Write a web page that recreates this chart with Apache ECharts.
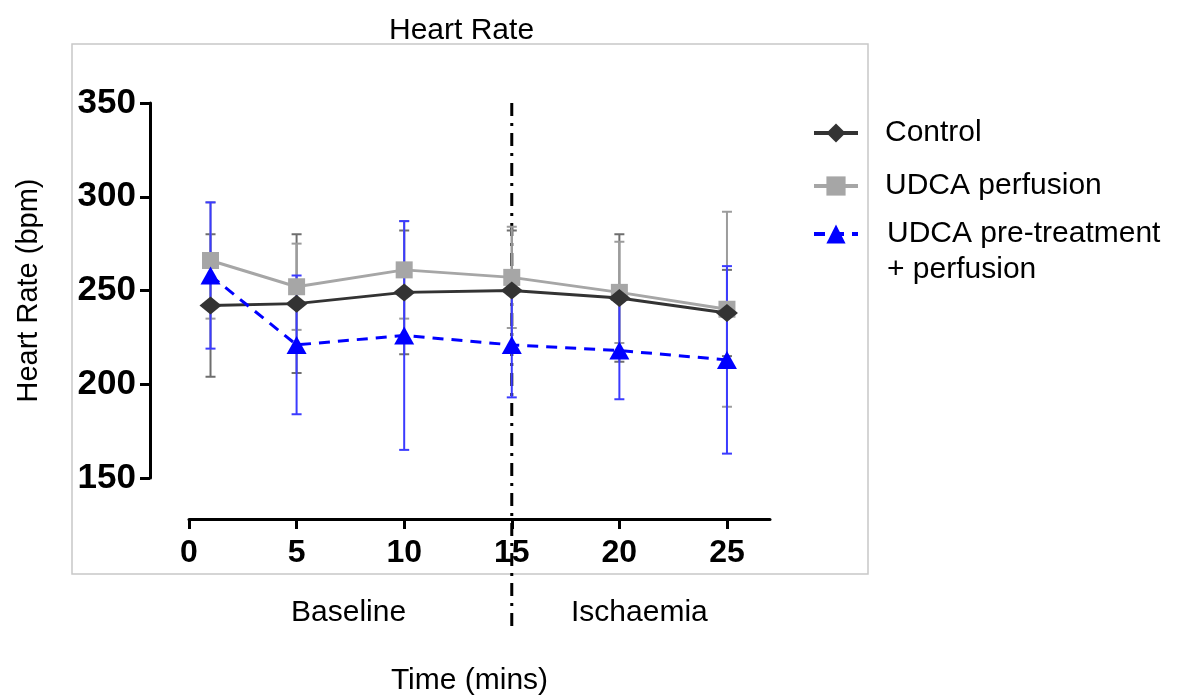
<!DOCTYPE html>
<html>
<head>
<meta charset="utf-8">
<script src="https://cdn.jsdelivr.net/npm/echarts@6/dist/echarts.min.js"></script>
<style>
  html, body { margin: 0; padding: 0; background: #fff; }
  #main { width: 1180px; height: 695px; }
</style>
</head>
<body>
<div id="main"></div>
<script>
var chart = echarts.init(document.getElementById('main'));

// minutes at which heart rate was recorded
var times = [1, 5, 10, 15, 20, 25];
// mean heart rate (bpm) and SD of each group
var controlMean = [242, 243, 249, 250, 246, 238];
var controlSD = [38, 37, 33, 32, 34, 23];
var perfMean = [266, 252, 261, 257, 249, 240];
var perfSD = [31, 23, 26, 27, 27, 52];
var preMean = [258, 221, 226, 221, 218, 213];
var preSD = [39, 37, 61, 28, 26, 50];
// tick labels
var xTicks = [0, 5, 10, 15, 20, 25];
var yTicks = [150, 200, 250, 300, 350];
// ischaemia starts here
var ischaemiaStart = 15;

var FONT = '"Liberation Sans", Arial, sans-serif';

function pts(mean) {
  return times.map(function (t, i) { return [t, mean[i]]; });
}
function bars(mean, sd) {
  return times.map(function (t, i) { return [t, mean[i] - sd[i], mean[i] + sd[i]]; });
}

// error bar drawn as vertical line with caps
function errorBar(color) {
  return function (params, api) {
    var lo = api.coord([api.value(0), api.value(1)]);
    var hi = api.coord([api.value(0), api.value(2)]);
    var w = 5;
    var st = { stroke: color, lineWidth: 2 };
    return {
      type: 'group',
      children: [
        { type: 'line', shape: { x1: lo[0], y1: lo[1], x2: hi[0], y2: hi[1] }, style: st },
        { type: 'line', shape: { x1: lo[0] - w, y1: lo[1], x2: lo[0] + w, y2: lo[1] }, style: st },
        { type: 'line', shape: { x1: hi[0] - w, y1: hi[1], x2: hi[0] + w, y2: hi[1] }, style: st }
      ]
    };
  };
}

var preName = 'UDCA pre-treatment\n+ perfusion';

var option = {
  backgroundColor: '#fff',
  animation: false,
  title: {
    text: 'Heart Rate',
    left: 384,
    top: 11,
    textStyle: { fontFamily: FONT, fontSize: 30, fontWeight: 'normal', color: '#000' }
  },
  legend: [
    {
      data: ['Control', 'UDCA perfusion'],
      orient: 'vertical',
      left: 812,
      top: 116,
      padding: 0,
      itemGap: 19,
      itemWidth: 44,
      itemHeight: 24,
      selectedMode: false,
      lineStyle: { width: 4 },
      textStyle: { fontFamily: FONT, fontSize: 30, lineHeight: 34, color: '#000', padding: [0, 0, 0, 22] }
    },
    {
      data: [preName],
      orient: 'vertical',
      left: 812,
      top: 180,
      padding: 0,
      itemWidth: 44,
      itemHeight: 24,
      selectedMode: false,
      lineStyle: { width: 4 },
      formatter: function (name) { return '\n' + name; },
      textStyle: { fontFamily: FONT, fontSize: 30, lineHeight: 36, color: '#000', padding: [0, 0, 0, 24] }
    }
  ],
  grid: { left: 189, right: 410, top: 103, bottom: 217, containLabel: false, outerBoundsMode: 'none' },
  xAxis: {
    type: 'value',
    min: 0,
    max: 27,
    interval: 5,
    offset: 41,
    splitLine: { show: false },
    axisLine: { show: true, onZero: false, lineStyle: { color: '#000', width: 3 } },
    axisTick: { show: true, length: 10, lineStyle: { color: '#000', width: 3 }, customValues: xTicks },
    axisLabel: {
      customValues: xTicks,
      margin: 18,
      fontFamily: FONT, fontSize: 32, fontWeight: 'bold', color: '#000'
    },
    name: 'Time (mins)',
    nameLocation: 'middle',
    nameGap: 147,
    nameTextStyle: { fontFamily: FONT, fontSize: 30, color: '#000', padding: [0, 20, 0, 0] }
  },
  yAxis: {
    type: 'value',
    min: 150,
    max: 350,
    interval: 50,
    offset: 39,
    splitLine: { show: false },
    axisLine: { show: true, onZero: false, lineStyle: { color: '#000', width: 3 } },
    axisTick: { show: true, length: 10, lineStyle: { color: '#000', width: 3 }, customValues: yTicks },
    axisLabel: {
      customValues: yTicks,
      margin: 14,
      fontFamily: FONT, fontSize: 35, fontWeight: 'bold', color: '#000'
    },
    name: 'Heart Rate (bpm)',
    nameLocation: 'middle',
    nameGap: 107,
    nameTextStyle: { fontFamily: FONT, fontSize: 29, color: '#000' }
  },
  graphic: [
    {
      type: 'rect', z: -10, silent: true,
      shape: { x: 72, y: 44, width: 796, height: 530 },
      style: { fill: 'none', stroke: '#c8c8c8', lineWidth: 1.5 }
    },
    {
      type: 'text', left: 291, top: 598,
      style: { text: 'Baseline', font: '30px ' + FONT, fill: '#000' }
    },
    {
      type: 'text', left: 571, top: 598,
      style: { text: 'Ischaemia', font: '30px ' + FONT, fill: '#000' }
    }
  ],
  series: [
    {
      type: 'custom',
      name: 'phase',
      clip: false,
      silent: true,
      z: 1,
      data: [[ischaemiaStart]],
      renderItem: function (params, api) {
        var top = api.coord([api.value(0), 350]);
        var bot = api.coord([api.value(0), 150]);
        return {
          type: 'line',
          shape: { x1: top[0], y1: top[1], x2: top[0], y2: bot[1] + 155 },
          style: { stroke: '#000', lineWidth: 3, lineDash: [13, 7, 3, 7] }
        };
      }
    },
    {
      type: 'custom',
      name: 'Control SD',
      z: 2,
      data: bars(controlMean, controlSD),
      encode: { x: 0, y: [1, 2] },
      renderItem: errorBar('#6e6e6e')
    },
    {
      type: 'custom',
      name: 'UDCA perfusion SD',
      z: 2,
      data: bars(perfMean, perfSD),
      encode: { x: 0, y: [1, 2] },
      renderItem: errorBar('#9c9c9c')
    },
    {
      type: 'custom',
      name: 'pre SD',
      z: 3,
      data: bars(preMean, preSD),
      encode: { x: 0, y: [1, 2] },
      renderItem: errorBar('#3b3bff')
    },
    {
      type: 'line',
      name: 'UDCA perfusion',
      z: 4,
      data: pts(perfMean),
      symbol: 'rect',
      symbolSize: 17,
      color: '#a6a6a6',
      lineStyle: { color: '#a6a6a6', width: 3 },
      itemStyle: { color: '#a6a6a6' }
    },
    {
      type: 'line',
      name: 'Control',
      z: 5,
      data: pts(controlMean),
      symbol: 'diamond',
      symbolSize: [22, 18],
      color: '#333',
      lineStyle: { color: '#333', width: 3 },
      itemStyle: { color: '#333' }
    },
    {
      type: 'line',
      name: preName,
      z: 6,
      data: pts(preMean),
      symbol: 'triangle',
      symbolSize: [20, 18],
      color: '#0000ff',
      lineStyle: { color: '#0000ff', width: 3, type: [11, 8] },
      itemStyle: { color: '#0000ff' }
    }
  ]
};

chart.setOption(option);
</script>
</body>
</html>
